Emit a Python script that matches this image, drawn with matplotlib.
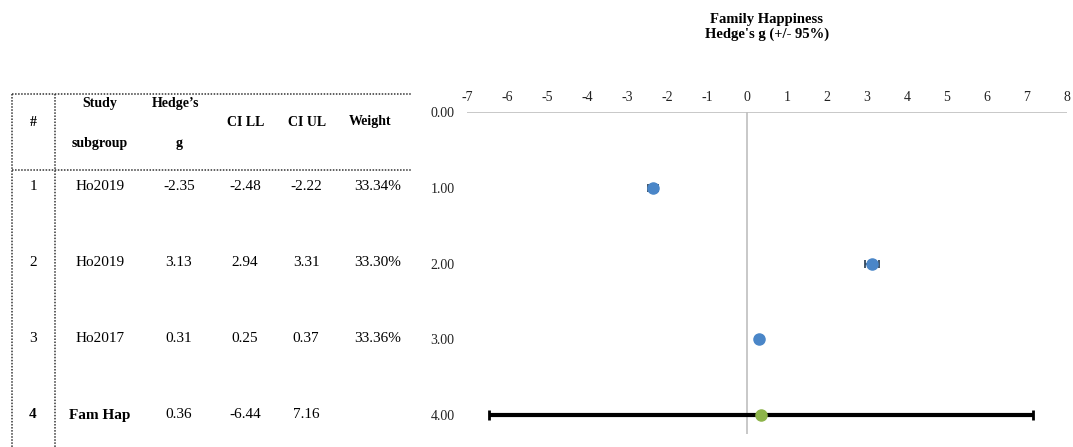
import numpy as np
import matplotlib
matplotlib.use('Agg')
import matplotlib.pyplot as plt

plt.rcParams['font.family'] = ['Liberation Serif', 'DejaVu Serif']
plt.rcParams['axes.unicode_minus'] = False

# table / forest data
row_ids = ['1', '2', '3', '4']
studies = ['Ho2019', 'Ho2019', 'Ho2017', 'Fam Hap']
hedges_g = [-2.35, 3.13, 0.31, 0.36]
ci_ll = [-2.48, 2.94, 0.25, -6.44]
ci_ul = [-2.22, 3.31, 0.37, 7.16]
weights = ['33.34%', '33.30%', '33.36%', '']
x_ticks = list(range(-7, 9))
y_ticks = [0, 1, 2, 3, 4]

W, H = 1073, 447
fig = plt.figure(figsize=(W / 100, H / 100), dpi=100)

# forest plot axes (pixel layout of the reference)
left, right, top, bottom = 467, 1067, 112, 434
ax = fig.add_axes([left / W, 1 - bottom / H, (right - left) / W, (bottom - top) / H])
ax.set_xlim(-7, 8)
ax.set_ylim(4.25, 0)
for s in ax.spines.values():
    s.set_visible(False)
ax.axhline(0, color='#bfbfbf', lw=1.2)
ax.axvline(0, color='#bfbfbf', lw=1.2)
ax.xaxis.tick_top()
ax.set_xticks(x_ticks)
ax.set_yticks(y_ticks)
ax.set_yticklabels(['%.2f' % v for v in y_ticks])
ax.tick_params(axis='x', length=0, pad=6, labelsize=10, colors='#222222')
ax.tick_params(axis='y', length=0, pad=9, labelsize=10, colors='#222222')

g = np.array(hedges_g)
lo = g - np.array(ci_ll)
hi = np.array(ci_ul) - g
ys = np.arange(1, len(g) + 1)

n = len(g) - 1
ax.errorbar(g[:n], ys[:n], xerr=[lo[:n], hi[:n]], fmt='o', color='#4a86c8', ms=8,
            ecolor='#34495e', elinewidth=1.3, capsize=3, capthick=1.3, zorder=3)
ax.errorbar(g[n:], ys[n:], xerr=[lo[n:], hi[n:]], fmt='o', color='#8db44a', ms=8,
            ecolor='black', elinewidth=3, capsize=3.5, capthick=2, zorder=3)

fig.text(767 / W, 1 - 13 / H, "Family Happiness\nHedge's g (+/- 95%)", ha='center', va='top',
         fontsize=10.5, fontweight='bold', linespacing=1.1)

# table drawn in pixel coordinates
tb = fig.add_axes([0, 0, 1, 1])
tb.set_xlim(0, W)
tb.set_ylim(H, 0)
tb.axis('off')
dot = dict(color='#333333', lw=1.1, ls=(0, (1, 1)))
tb.plot([12, 412], [94, 94], **dot)
tb.plot([12, 412], [170, 170], **dot)
tb.plot([12, 12], [94, 447], **dot)
tb.plot([55, 55], [94, 447], **dot)

hdr = dict(ha='center', va='center', fontsize=10, fontweight='bold')
tb.text(33, 122, '#', **hdr)
tb.text(100, 103, 'Study', **hdr)
tb.text(100, 143, 'subgroup', **hdr)
tb.text(176, 103, "Hedge\u2019s", **hdr)
tb.text(179, 143, 'g', **hdr)
tb.text(246, 122, 'CI LL', **hdr)
tb.text(307, 122, 'CI UL', **hdr)
tb.text(370, 122, 'Weight', **hdr)

row_y = [187, 263, 339, 415]
for i in range(len(studies)):
    wt = 'bold' if i == len(studies) - 1 else 'normal'
    y = row_y[i]
    tb.text(33, y, row_ids[i], ha='center', va='center', fontsize=11, fontweight=wt)
    tb.text(100, y, studies[i], ha='center', va='center', fontsize=11, fontweight=wt)
    tb.text(179, y, '%.2f' % hedges_g[i], ha='center', va='center', fontsize=11)
    tb.text(245, y, '%.2f' % ci_ll[i], ha='center', va='center', fontsize=11)
    tb.text(306, y, '%.2f' % ci_ul[i], ha='center', va='center', fontsize=11)
    tb.text(378, y, weights[i], ha='center', va='center', fontsize=11)

fig.savefig('out.png', dpi=100)
